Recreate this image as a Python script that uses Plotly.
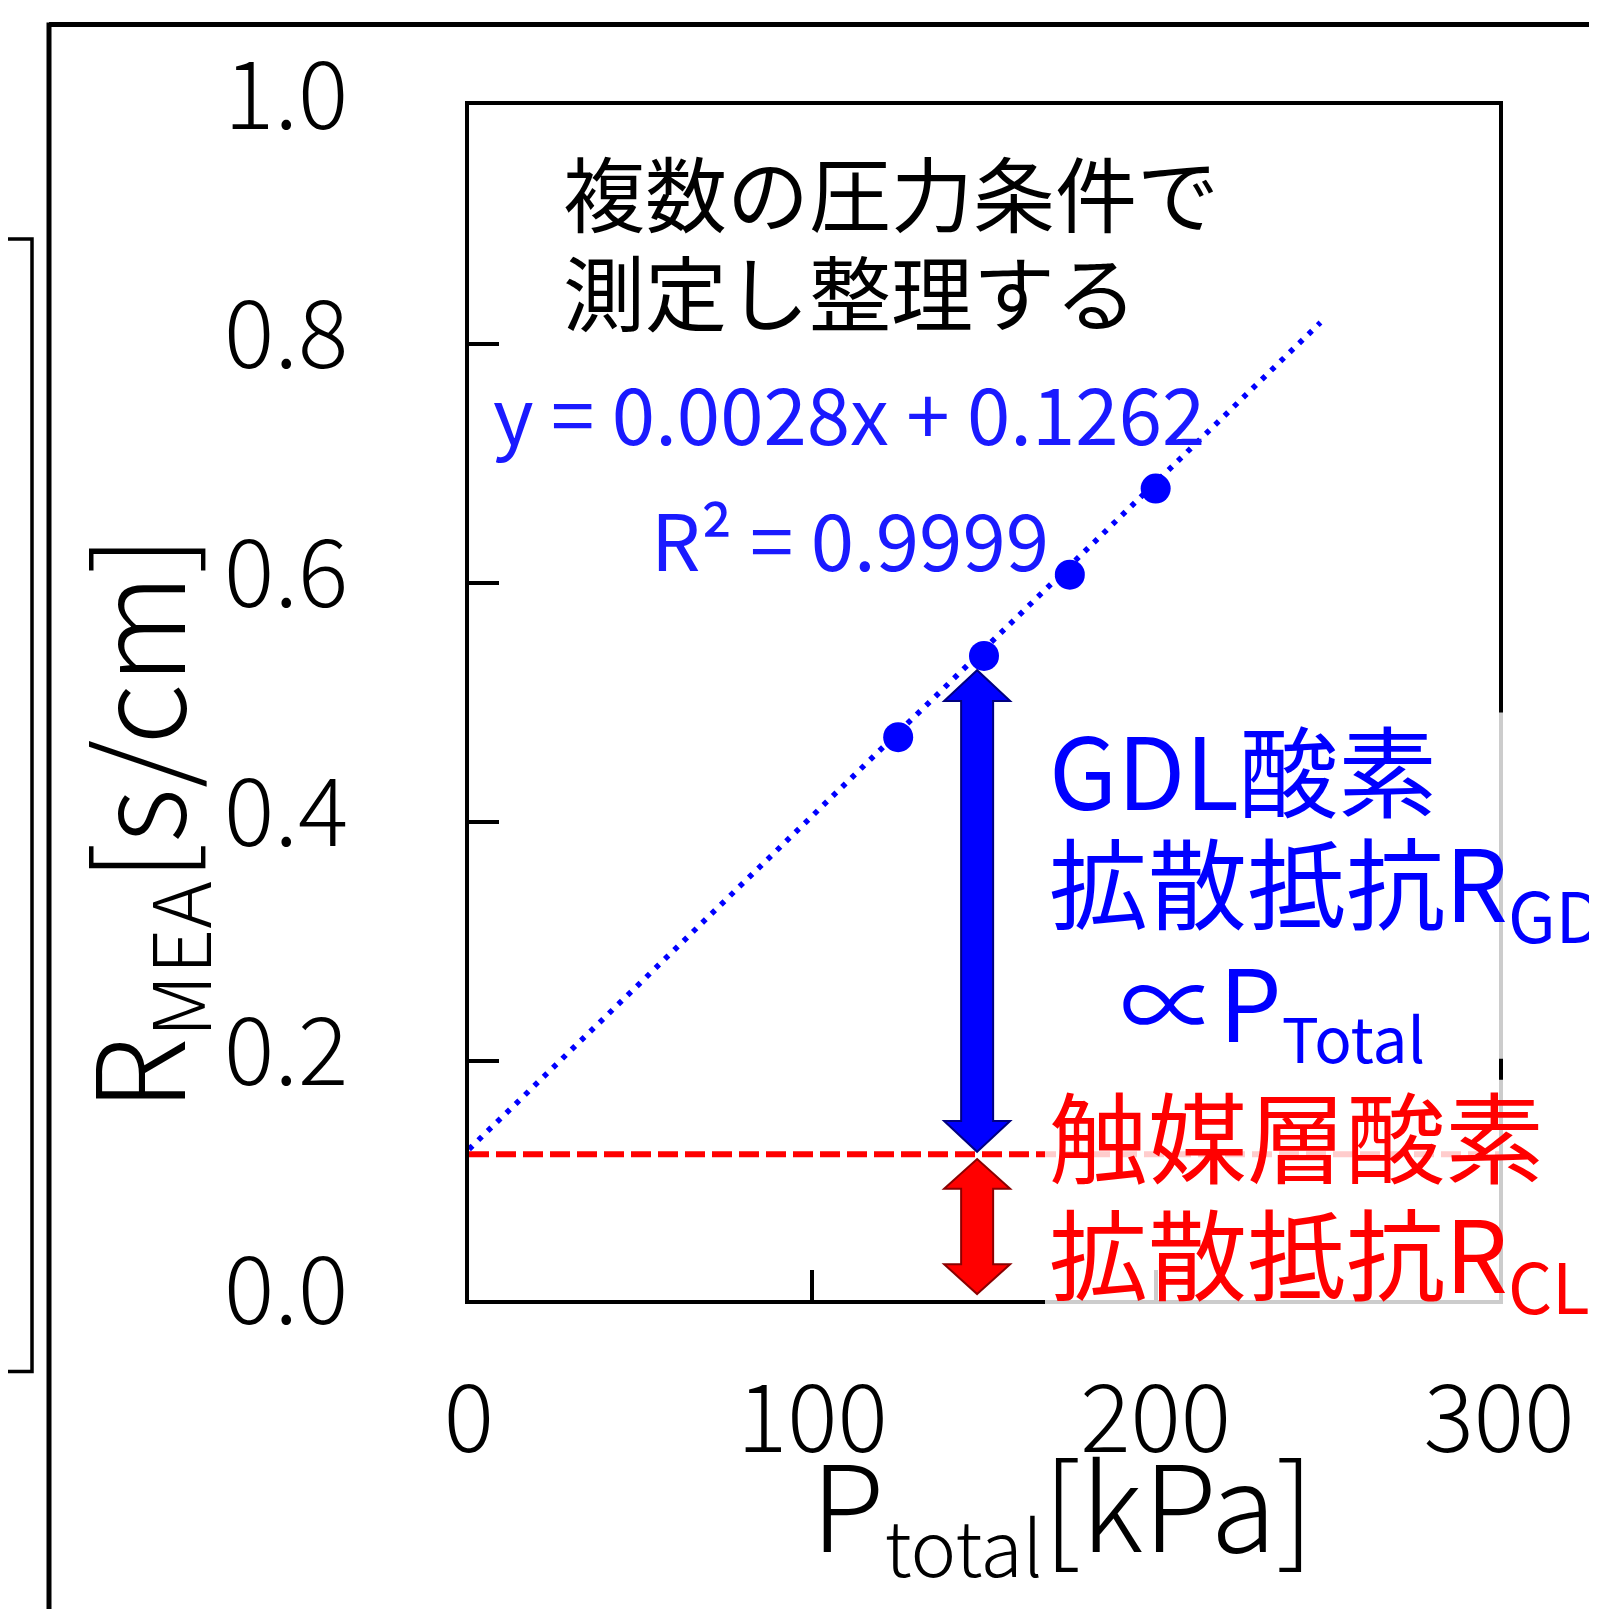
import plotly.graph_objects as go

# ---------------- data ----------------
p_total = [125, 150, 175, 200]                 # kPa
r_mea = [0.471, 0.539, 0.607, 0.679]           # s/cm
trend_x = [0, 248]                              # fitted line ends
trend_y = [0.1262, 0.818]
r_cl_level = 0.122                              # R_CL level (dashed line)
arrow_x = 148                                   # x position of the double arrows
blue_arrow_y = [0.124, 0.527]
red_arrow_y = [0.005, 0.118]
x_ticks = [0, 100, 200, 300]
y_ticks = [0.0, 0.2, 0.4, 0.6, 0.8, 1.0]
y_ticklabels = ["0.0", "0.2", "0.4", "0.6", "0.8", "1.0"]

# ---------------- geometry (pixels) ----------------
W, H = 1597, 1609
L, R, T, B = 461, 1491, 88, 1292
XR, YR = (0, 300), (0, 1)
sx = (R - L) / (XR[1] - XR[0])
sy = (B - T) / (YR[1] - YR[0])

def pxx(px):
    return (px - L) / (R - L)

def pxy(py):
    return (B - py) / (B - T)

FONT = "Noto Sans CJK JP"
BLUE = "#0000FF"
RED = "#FF0000"

fig = go.Figure()

fig.add_trace(go.Scatter(x=[0, 300], y=[r_cl_level, r_cl_level], mode="lines",
                         line=dict(color=RED, width=6, dash="20px,7px"),
                         hoverinfo="skip", showlegend=False))
fig.add_trace(go.Scatter(x=trend_x, y=trend_y, mode="lines",
                         line=dict(color=BLUE, width=5.5, dash="5px,8px"),
                         hoverinfo="skip", showlegend=False))
fig.add_trace(go.Scatter(x=p_total, y=r_mea, mode="markers",
                         marker=dict(color=BLUE, size=30),
                         showlegend=False))

shapes = []

def arrow_path(xc, y0, y1, hw_px=16, HW_px=33, HL_px=31):
    hw = hw_px / sx
    HW = HW_px / sx
    hl = HL_px / sy
    pts = [(xc, y0), (xc + HW, y0 + hl), (xc + hw, y0 + hl), (xc + hw, y1 - hl),
           (xc + HW, y1 - hl), (xc, y1), (xc - HW, y1 - hl), (xc - hw, y1 - hl),
           (xc - hw, y0 + hl), (xc - HW, y0 + hl)]
    return "M " + " L ".join(f"{a},{b}" for a, b in pts) + " Z"

shapes.append(dict(type="path", xref="x", yref="y",
                   path=arrow_path(arrow_x, blue_arrow_y[0], blue_arrow_y[1]),
                   fillcolor=BLUE, line=dict(color="#000080", width=2), layer="above"))
shapes.append(dict(type="path", xref="x", yref="y",
                   path=arrow_path(arrow_x, red_arrow_y[0], red_arrow_y[1], HL_px=30),
                   fillcolor=RED, line=dict(color="#8B0000", width=2), layer="above"))

# semi-transparent label boxes
shapes.append(dict(type="rect", xref="paper", yref="paper",
                   x0=pxx(1037), x1=pxx(W + 10), y0=pxy(1049), y1=pxy(700),
                   fillcolor="white", opacity=0.8, line=dict(width=0), layer="above"))
shapes.append(dict(type="rect", xref="paper", yref="paper",
                   x0=pxx(1037), x1=pxx(W + 10), y0=pxy(1298), y1=pxy(1070),
                   fillcolor="white", opacity=0.8, line=dict(width=0), layer="above"))

# decorative outer frame
shapes.append(dict(type="line", xref="paper", yref="paper",
                   x0=pxx(41), x1=pxx(W + 10), y0=pxy(7), y1=pxy(7),
                   line=dict(color="black", width=5), layer="above"))
shapes.append(dict(type="line", xref="paper", yref="paper",
                   x0=pxx(41), x1=pxx(41), y0=pxy(5), y1=pxy(H + 10),
                   line=dict(color="black", width=5), layer="above"))
shapes.append(dict(type="rect", xref="paper", yref="paper",
                   x0=pxx(-20), x1=pxx(24), y0=pxy(1364), y1=pxy(223),
                   line=dict(color="black", width=3.5), layer="above"))

annotations = []

def txt(text, x, y, size, color, xanchor="left", yanchor="middle", angle=0, weight=None):
    f = dict(family=FONT, size=size, color=color)
    if weight:
        f["weight"] = weight
    annotations.append(dict(text=text, x=pxx(x), y=pxy(y), xref="paper", yref="paper",
                            xanchor=xanchor, yanchor=yanchor, showarrow=False,
                            textangle=angle, font=f))

txt("複数の圧力条件で", 553, 174, 82, "#000")
txt("測定し整理する", 553, 274, 82, "#000")
txt("y = 0.0028x + 0.1262", 483, 396, 78, "#1A1AFF")
txt("R² = 0.9999", 641, 523, 78, "#1A1AFF")

txt("GDL酸素", 1039, 755, 99, BLUE)
txt("拡散抵抗R<sub>GDL</sub>", 1039, 874, 99, BLUE)
txt("∝P<sub><span style='font-size:62px'>Total</span></sub>", 1110, 994, 99, BLUE)
txt("触媒層酸素", 1039, 1124, 99, RED)
txt("拡散抵抗R<sub>CL</sub>", 1039, 1248, 99, RED)

# axis titles
txt("P<sub><span style='font-size:77px'>total</span></sub>[kPa]", 801, 1500, 120, "#000", weight=300)
txt("R<sub><span style='font-size:80px'>MEA</span></sub>[s/cm]", 131, 812, 122, "#000",
    xanchor="center", angle=-90, weight=300)

fig.update_layout(
    width=W, height=H,
    margin=dict(l=L, r=W - R, t=T, b=H - B, pad=0),
    paper_bgcolor="white", plot_bgcolor="white",
    shapes=shapes, annotations=annotations,
    showlegend=False,
    xaxis=dict(range=list(XR), tickvals=x_ticks, ticks="inside", ticklen=30,
               tickwidth=4, tickcolor="black", showline=True, linewidth=4,
               linecolor="black", mirror=True, showgrid=False, zeroline=False,
               tickfont=dict(family=FONT, size=94, color="#000", weight=300),
               ticklabelstandoff=35),
    yaxis=dict(range=list(YR), tickvals=y_ticks, ticktext=y_ticklabels,
               ticks="inside", ticklen=30,
               tickwidth=4, tickcolor="black", showline=True, linewidth=4,
               linecolor="black", mirror=True, showgrid=False, zeroline=False,
               tickfont=dict(family=FONT, size=94, color="#000", weight=300),
               ticklabelstandoff=98, ticklabelshift=-9),
)

fig.write_html("out.html")
